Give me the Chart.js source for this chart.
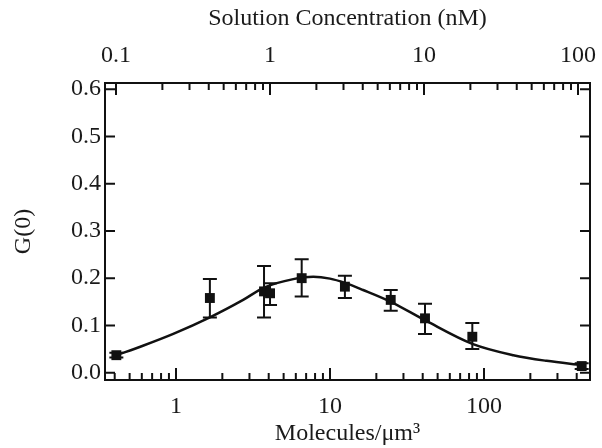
<!DOCTYPE html>
<html>
<head>
<meta charset="utf-8">
<script src="https://cdn.jsdelivr.net/npm/chart.js@4/dist/chart.umd.min.js"></script>
<style>
  body { margin: 0; background: #fff; }
</style>
</head>
<body>
<canvas id="g0Chart" width="602" height="448"></canvas>
<script>
// measured points: molecules per um^3 vs G(0)
const molecules = [0.41, 1.66, 3.73, 4.08, 6.55, 12.5, 24.8, 41.4, 84, 431];
const g0 = [0.037, 0.158, 0.172, 0.168, 0.200, 0.182, 0.154, 0.115, 0.076, 0.014];
const errHigh = [0.042, 0.198, 0.226, 0.189, 0.240, 0.205, 0.175, 0.146, 0.105, 0.020];
const errLow = [0.032, 0.117, 0.117, 0.143, 0.161, 0.158, 0.131, 0.082, 0.050, 0.008];

// fitted curve
const fitX = [0.41, 0.61, 0.96, 1.66, 2.73, 3.73, 5.78, 7.79, 10, 12.5, 16.4, 24.8, 41.4, 84, 155, 255, 431];
const fitY = [0.037, 0.057, 0.082, 0.117, 0.154, 0.180, 0.198, 0.203, 0.199, 0.190, 0.175, 0.150, 0.111, 0.061, 0.037, 0.025, 0.016];

// axis ticks
const bottomTicks = [1, 10, 100];
const bottomMinor = [0.4, 0.5, 0.6, 0.7, 0.8, 0.9, 2, 3, 4, 5, 6, 7, 8, 9, 20, 30, 40, 50, 60, 70, 80, 90, 200, 300, 400];
const topTicks = [0.1, 1, 10, 100];
const topMinor = [0.2, 0.3, 0.4, 0.5, 0.6, 0.7, 0.8, 0.9, 2, 3, 4, 5, 6, 7, 8, 9, 20, 30, 40, 50, 60, 70, 80, 90];
const yTicks = [0.0, 0.1, 0.2, 0.3, 0.4, 0.5, 0.6];

const xMin = 0.346, xMax = 488;
const nMFactor = 4.08; // molecules/um^3 per nM on this instrument
const yMin = -0.0155, yMax = 0.613;

const font = { family: '"Liberation Serif", "Times New Roman", serif', size: 24 };
Chart.defaults.color = '#1a1a1a';

// ticks drawn inward on all four sides
const inwardTicks = {
    id: 'inwardTicks',
    afterDatasetsDraw(chart) {
        const { ctx, chartArea: a, scales } = chart;
        ctx.save();
        ctx.strokeStyle = '#111';
        ctx.lineWidth = 2;
        const vTick = (sc, v, len) => {
            const px = sc.getPixelForValue(v);
            ctx.beginPath();
            if (sc.position === 'bottom') { ctx.moveTo(px, a.bottom); ctx.lineTo(px, a.bottom - len); }
            else { ctx.moveTo(px, a.top); ctx.lineTo(px, a.top + len); }
            ctx.stroke();
        };
        bottomTicks.forEach(v => vTick(scales.x, v, 12));
        bottomMinor.forEach(v => vTick(scales.x, v, 7));
        topTicks.forEach(v => vTick(scales.x2, v, 12));
        topMinor.forEach(v => vTick(scales.x2, v, 7));
        yTicks.forEach(v => {
            const py = scales.y.getPixelForValue(v);
            ctx.beginPath();
            ctx.moveTo(a.left, py); ctx.lineTo(a.left + 10, py);
            ctx.moveTo(a.right, py); ctx.lineTo(a.right - 10, py);
            ctx.stroke();
        });
        ctx.restore();
    }
};

// vertical error bars with caps
const errorBars = {
    id: 'errorBars',
    beforeDatasetsDraw(chart) {
        const { ctx, scales } = chart;
        ctx.save();
        ctx.strokeStyle = '#111';
        ctx.lineWidth = 2;
        molecules.forEach((m, i) => {
            const px = scales.x.getPixelForValue(m);
            const top = scales.y.getPixelForValue(errHigh[i]);
            const bot = scales.y.getPixelForValue(errLow[i]);
            ctx.beginPath();
            ctx.moveTo(px, top); ctx.lineTo(px, bot);
            ctx.moveTo(px - 7, top); ctx.lineTo(px + 7, top);
            ctx.moveTo(px - 7, bot); ctx.lineTo(px + 7, bot);
            ctx.stroke();
        });
        ctx.restore();
    }
};

const fixedTicks = list => scale => { scale.ticks = list.map(v => ({ value: v })); };
const border = { display: true, color: '#111', width: 2 };
const noGrid = { display: false, drawTicks: false };
const fixHeight = h => s => { s.height = h; s.paddingLeft = 0; s.paddingRight = 0; };
const fixWidth = w => s => { s.width = w; s.paddingTop = 0; s.paddingBottom = 0; };

new Chart(document.getElementById('g0Chart'), {
    type: 'scatter',
    data: {
        datasets: [
            {
                type: 'line',
                data: fitX.map((x, i) => ({ x: x, y: fitY[i] })),
                borderColor: '#111',
                borderWidth: 2.5,
                pointRadius: 0,
                cubicInterpolationMode: 'monotone',
                fill: false
            },
            {
                data: molecules.map((x, i) => ({ x: x, y: g0[i] })),
                pointStyle: 'rect',
                pointRadius: 7,
                backgroundColor: '#111',
                borderColor: '#111',
                borderWidth: 0
            }
        ]
    },
    options: {
        responsive: false,
        animation: false,
        layout: { padding: 0 },
        plugins: { legend: { display: false }, tooltip: { enabled: false } },
        scales: {
            x: {
                type: 'logarithmic', position: 'bottom', min: xMin, max: xMax, bounds: 'data',
                grid: noGrid, border: border,
                afterBuildTicks: fixedTicks(bottomTicks),
                ticks: { font: font, padding: 12, maxRotation: 0, callback: v => String(v) },
                title: { display: true, text: 'Molecules/μm³', font: font, padding: { top: 0, bottom: 0 } },
                afterFit: fixHeight(68)
            },
            x2: {
                type: 'logarithmic', position: 'top', min: xMin / nMFactor, max: xMax / nMFactor, bounds: 'data',
                grid: noGrid, border: border,
                afterBuildTicks: fixedTicks(topTicks),
                ticks: { font: font, padding: 13, maxRotation: 0, callback: v => String(v) },
                title: { display: true, text: 'Solution Concentration (nM)', font: font, padding: { top: 4, bottom: 0 } },
                afterFit: fixHeight(83)
            },
            y: {
                type: 'linear', position: 'left', min: yMin, max: yMax, bounds: 'data',
                grid: noGrid, border: border,
                afterBuildTicks: fixedTicks(yTicks),
                ticks: { font: font, padding: 4, callback: v => v.toFixed(1) },
                title: { display: true, text: 'G(0)', font: font, padding: { top: 9, bottom: 0 } },
                afterFit: fixWidth(105)
            },
            y2: {
                type: 'linear', position: 'right', min: yMin, max: yMax, bounds: 'data',
                grid: noGrid, border: border,
                ticks: { display: false },
                afterFit: fixWidth(12)
            }
        }
    },
    plugins: [errorBars, inwardTicks]
});
</script>
</body>
</html>
